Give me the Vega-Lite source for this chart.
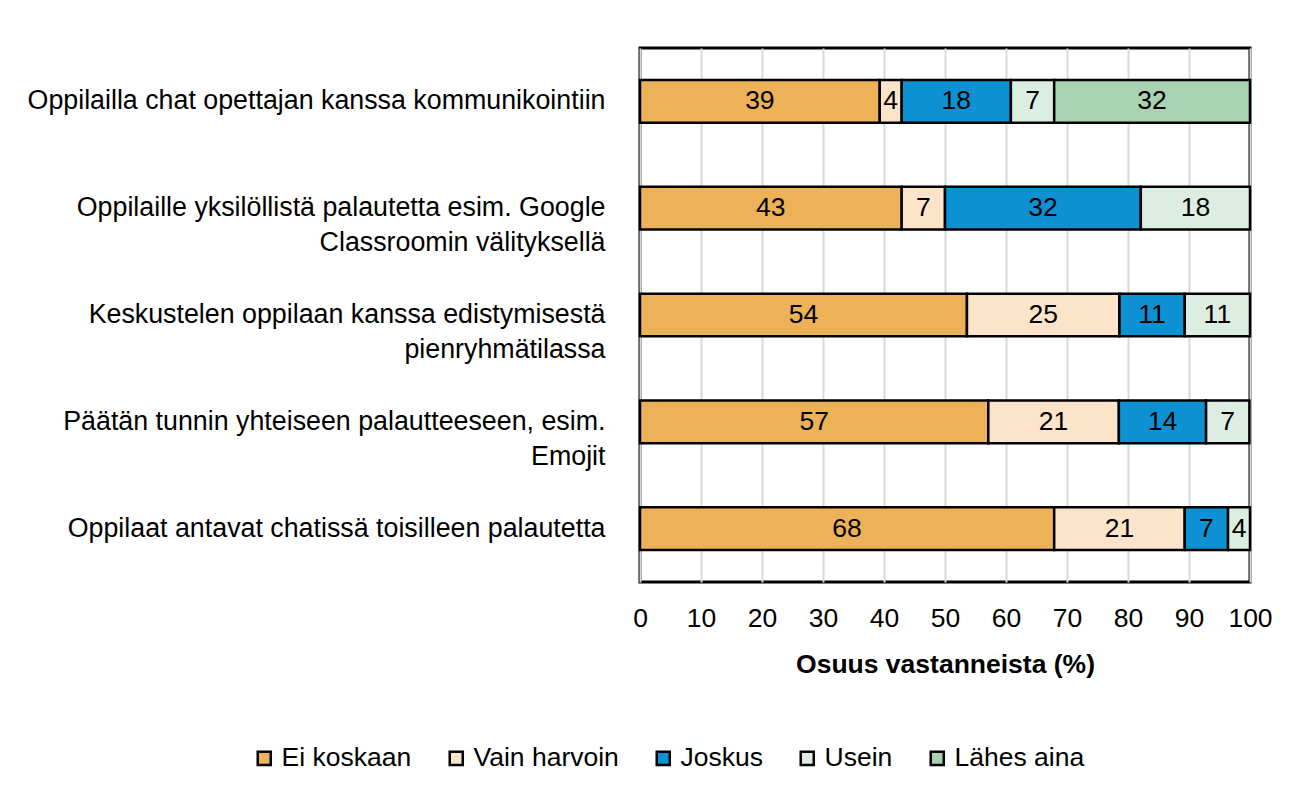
{
  "$schema": "https://vega.github.io/schema/vega-lite/v6.json",
  "width": 610,
  "height": 534,
  "autosize": {"type": "none"},
  "padding": {"left": 640, "top": 48, "right": 51, "bottom": 223},
  "background": "white",
  "config": {
    "view": {"stroke": "black", "strokeWidth": 3},
    "font": "Liberation Sans"
  },
  "data": {
    "values": [
      {"item": "Oppilailla chat opettajan kanssa kommunikointiin", "resp": "Ei koskaan", "k": 1, "pct": 39.3},
      {"item": "Oppilailla chat opettajan kanssa kommunikointiin", "resp": "Vain harvoin", "k": 2, "pct": 3.6},
      {"item": "Oppilailla chat opettajan kanssa kommunikointiin", "resp": "Joskus", "k": 3, "pct": 17.9},
      {"item": "Oppilailla chat opettajan kanssa kommunikointiin", "resp": "Usein", "k": 4, "pct": 7.1},
      {"item": "Oppilailla chat opettajan kanssa kommunikointiin", "resp": "Lähes aina", "k": 5, "pct": 32.1},
      {"item": "Oppilaille yksilöllistä palautetta esim. Google|Classroomin välityksellä", "resp": "Ei koskaan", "k": 1, "pct": 42.9},
      {"item": "Oppilaille yksilöllistä palautetta esim. Google|Classroomin välityksellä", "resp": "Vain harvoin", "k": 2, "pct": 7.1},
      {"item": "Oppilaille yksilöllistä palautetta esim. Google|Classroomin välityksellä", "resp": "Joskus", "k": 3, "pct": 32.1},
      {"item": "Oppilaille yksilöllistä palautetta esim. Google|Classroomin välityksellä", "resp": "Usein", "k": 4, "pct": 17.9},
      {"item": "Keskustelen oppilaan kanssa edistymisestä|pienryhmätilassa", "resp": "Ei koskaan", "k": 1, "pct": 53.6},
      {"item": "Keskustelen oppilaan kanssa edistymisestä|pienryhmätilassa", "resp": "Vain harvoin", "k": 2, "pct": 25.0},
      {"item": "Keskustelen oppilaan kanssa edistymisestä|pienryhmätilassa", "resp": "Joskus", "k": 3, "pct": 10.7},
      {"item": "Keskustelen oppilaan kanssa edistymisestä|pienryhmätilassa", "resp": "Usein", "k": 4, "pct": 10.7},
      {"item": "Päätän tunnin yhteiseen palautteeseen, esim.|Emojit", "resp": "Ei koskaan", "k": 1, "pct": 57.1},
      {"item": "Päätän tunnin yhteiseen palautteeseen, esim.|Emojit", "resp": "Vain harvoin", "k": 2, "pct": 21.4},
      {"item": "Päätän tunnin yhteiseen palautteeseen, esim.|Emojit", "resp": "Joskus", "k": 3, "pct": 14.3},
      {"item": "Päätän tunnin yhteiseen palautteeseen, esim.|Emojit", "resp": "Usein", "k": 4, "pct": 7.1},
      {"item": "Oppilaat antavat chatissä toisilleen palautetta", "resp": "Ei koskaan", "k": 1, "pct": 67.9},
      {"item": "Oppilaat antavat chatissä toisilleen palautetta", "resp": "Vain harvoin", "k": 2, "pct": 21.4},
      {"item": "Oppilaat antavat chatissä toisilleen palautetta", "resp": "Joskus", "k": 3, "pct": 7.1},
      {"item": "Oppilaat antavat chatissä toisilleen palautetta", "resp": "Usein", "k": 4, "pct": 3.6}
    ]
  },
  "encoding": {
    "y": {
      "field": "item",
      "type": "nominal",
      "sort": null,
      "scale": {"paddingInner": 0.6, "paddingOuter": 0.3},
      "axis": {
        "title": null,
        "domain": false,
        "ticks": false,
        "labelFontSize": 26.8,
        "labelPadding": 35,
        "labelColor": "black",
        "labelLimit": 800,
        "labelLineHeight": 35,
        "labelExpr": "split(datum.label, '|')"
      }
    },
    "order": {"field": "k", "type": "quantitative"}
  },
  "layer": [
    {
      "mark": {"type": "bar", "stroke": "black", "strokeWidth": 2.5},
      "encoding": {
        "x": {
          "field": "pct",
          "type": "quantitative",
          "stack": "zero",
          "scale": {"domain": [0, 100], "nice": false},
          "axis": {
            "values": [0, 10, 20, 30, 40, 50, 60, 70, 80, 90, 100],
            "grid": true,
            "gridColor": "#d9d9d9",
            "gridWidth": 2,
            "domain": false,
            "ticks": false,
            "labelFontSize": 26.5,
            "labelPadding": 23,
            "labelColor": "black",
            "labelFlush": false,
            "title": "Osuus vastanneista (%)",
            "titleFontSize": 26.5,
            "titleFontWeight": "bold",
            "titleColor": "black",
            "titlePadding": 20
          }
        },
        "color": {
          "field": "resp",
          "type": "nominal",
          "scale": {
            "domain": ["Ei koskaan", "Vain harvoin", "Joskus", "Usein", "Lähes aina"],
            "range": ["#EDB257", "#FCE4CA", "#0E91D2", "#DCEEE2", "#A9D2B3"]
          },
          "legend": {
            "title": null,
            "orient": "none",
            "legendX": -389,
            "legendY": 697,
            "direction": "horizontal",
            "symbolType": "square",
            "symbolSize": 170,
            "symbolStrokeColor": "black",
            "symbolStrokeWidth": 2.5,
            "symbolOpacity": 1,
            "labelFontSize": 26.5,
            "labelColor": "black",
            "labelOffset": 4,
            "columnPadding": 31
          }
        }
      }
    },
    {
      "mark": {"type": "text", "fontSize": 26.5, "color": "black"},
      "encoding": {
        "x": {"field": "pct", "type": "quantitative", "stack": "zero", "bandPosition": 0.5},
        "detail": {"field": "resp", "type": "nominal"},
        "text": {"field": "pct", "type": "quantitative", "format": ".0f"}
      }
    }
  ]
}
